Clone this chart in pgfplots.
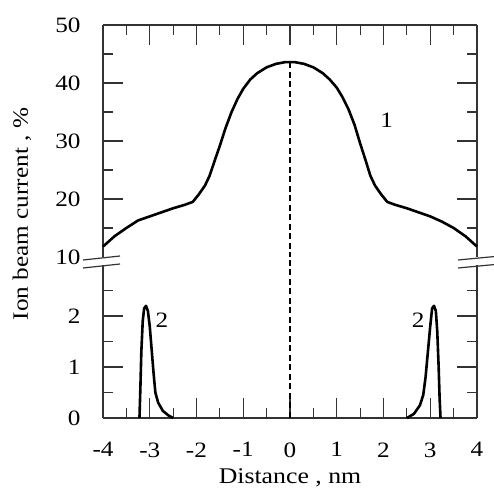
\documentclass[border=0pt]{standalone}
\usepackage{fontspec}
\setmainfont{Liberation Serif}[FakeStretch=1.15]
\usepackage{pgfplots}
\pgfplotsset{compat=1.18}

\pgfplotstableread{
x y
-4 11.8
-3.75 13.6
-3.5 15.0
-3.25 16.3
-3.0 17.0
-2.75 17.7
-2.5 18.4
-2.25 19.0
-2.08 19.5
-1.95 20.8
-1.82 22.3
-1.72 24.0
-1.62 26.4
-1.5 29.2
-1.38 32.2
-1.25 35.0
-1.12 37.3
-1.0 39.0
-0.85 40.6
-0.7 41.7
-0.5 42.7
-0.3 43.3
-0.1 43.6
0 43.6
0.1 43.6
0.3 43.3
0.5 42.7
0.7 41.7
0.85 40.6
1.0 39.2
1.12 37.6
1.25 35.5
1.38 32.8
1.5 29.6
1.62 26.6
1.72 24.0
1.82 22.3
1.95 20.8
2.08 19.5
2.25 19.0
2.5 18.4
2.75 17.7
3.0 17.0
3.25 16.1
3.5 15.0
3.75 13.6
4 11.8
}\curveone

\pgfplotstableread{
x y
-3.22 0
-3.20 0.6
-3.18 1.3
-3.15 1.9
-3.12 2.15
-3.08 2.2
-3.04 2.1
-3.00 1.8
-2.96 1.35
-2.92 0.9
-2.88 0.5
-2.82 0.3
-2.72 0.14
-2.6 0.05
-2.5 0
}\curvetwoL

\pgfplotstableread{
x y
2.5 0
2.65 0.08
2.78 0.25
2.85 0.45
2.9 0.8
2.95 1.3
3.0 1.8
3.04 2.15
3.08 2.2
3.12 2.1
3.15 1.7
3.18 1.0
3.2 0.4
3.22 0
}\curvetwoR

\begin{document}
\begin{tikzpicture}
\pgfplotsset{
 common/.style={
  scale only axis, width=374bp,
  xmin=-4,xmax=4,
  axis y line*=box,
  tick align=inside,
  major tick length=20bp, minor tick length=10bp,
  every tick/.style={black!80, line width=1.2bp},
  axis line style={black!80, line width=1.2bp},
  tick label style={font=\fontsize{22}{26}\selectfont},
  yticklabel style={xshift=-19bp},
  xticklabel style={yshift=-21bp},
  /pgf/number format/assume math mode=true,
  xtick={-4,...,4}, minor x tick num=1,
  clip=false,
 }
}
\begin{axis}[common, at={(0bp,161bp)}, anchor=south west, height=232bp,
  ymin=10,ymax=50, axis x line*=top, xtick pos=right, xticklabels={},
  ytick={20,30,40,50}, minor ytick={15,25,35,45}, ytick pos=both, yticklabel pos=left,
  extra y ticks={10}, extra y tick style={major tick length=0pt}]
\addplot[black, line width=2.6bp, line join=round] table {\curveone};
\addplot[black, line width=1.2bp, dash pattern=on 6bp off 3.5bp] coordinates {(0,43.6) (0,10)};
\node[font=\fontsize{22}{26}\selectfont] at (axis cs:2.07,33.6) {1};
\end{axis}
\begin{axis}[common, at={(0bp,0bp)}, anchor=south west, height=153bp,
  ymin=0,ymax=3, axis x line*=bottom, xtick pos=left,
  ytick={0,1,2}, minor ytick={0.5,1.5,2.5}, ytick pos=both, yticklabel pos=left]
\addplot[black, line width=2.6bp, line join=round] table {\curvetwoL};
\addplot[black, line width=2.6bp, line join=round] table {\curvetwoR};
\addplot[black, line width=1.2bp, dash pattern=on 6bp off 3.5bp] coordinates {(0,0) (0,3.15)};
\node[font=\fontsize{22}{26}\selectfont] at (axis cs:-2.74,1.92) {2};
\node[font=\fontsize{22}{26}\selectfont] at (axis cs:2.74,1.92) {2};
\end{axis}
\draw[line width=1.2bp, black!80] (-20bp,158bp) -- (17bp,162bp);
\draw[line width=1.2bp, black!80] (-20bp,150bp) -- (17bp,154bp);
\draw[line width=1.2bp, black!80] (355bp,158bp) -- (392bp,161.5bp);
\draw[line width=1.2bp, black!80] (355bp,150bp) -- (392bp,153.5bp);
\node[rotate=90, font=\fontsize{22}{26}\selectfont] at (-81bp,204bp) {Ion beam current , \%};
\node[anchor=base, font=\fontsize{22.5}{26}\selectfont] at (187bp,-65bp) {Distance , nm};
\pgfresetboundingbox
\path[use as bounding box] (-103bp,-74bp) rectangle (391bp,418bp);
\end{tikzpicture}
\end{document}
